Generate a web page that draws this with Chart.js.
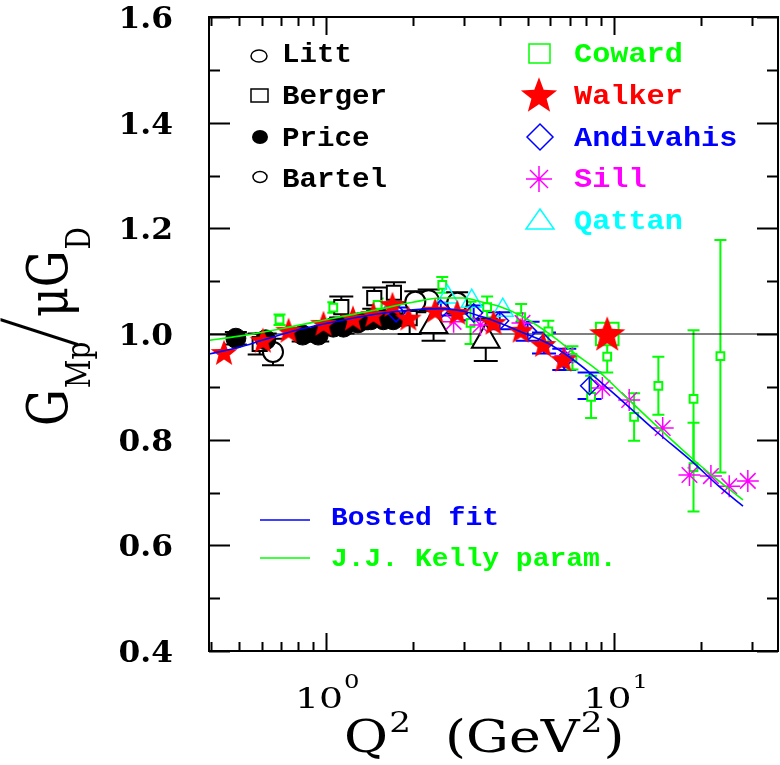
<!DOCTYPE html>
<html>
<head>
<meta charset="utf-8">
<script src="https://cdn.jsdelivr.net/npm/chart.js@4.4.0/dist/chart.umd.min.js"></script>
<style>
html, body { margin: 0; padding: 0; background: #fff; }
#wrap { width: 780px; height: 765px; }
</style>
</head>
<body>
<div id="wrap"><canvas id="myChart" width="780" height="765"></canvas></div>
<script>
// ---- data: Q^2 in GeV^2, value is G_Mp / (mu G_D) ----
var littQ2 = [0.655, 2.04];
var littVal = [0.966, 1.061];
var littErr = [0.025, 0.02];

var bergerQ2 = [0.589, 1.13, 1.47, 1.72, 1.95];
var bergerVal = [0.981, 1.051, 1.068, 1.078, 1.03];
var bergerErr = [0.02, 0.02, 0.02, 0.02, 0.03];

var priceQ2 = [0.487, 0.618, 0.83, 0.94, 1.06, 1.15, 1.29, 1.43, 1.58, 1.71];
var priceVal = [0.992, 0.989, 0.998, 0.998, 1.013, 1.013, 1.021, 1.027, 1.027, 1.027];
var priceErr = [0.012, 0.012, 0.012, 0.012, 0.012, 0.012, 0.012, 0.012, 0.012, 0.012];

var bartelQ2 = [2.27, 2.85];
var bartelVal = [1.064, 1.059];
var bartelErr = [0.02, 0.02];

var triQ2 = [2.36, 3.58];
var triVal = [1.017, 0.989];
var triErr = [0.03, 0.04];

var cowardQ2 = [0.69, 1.06, 1.51, 2.53, 3.17, 3.62, 4.75, 5.9, 7.15, 8.3, 9.44, 9.44, 11.7, 14.2, 18.8, 18.8, 23.3];
var cowardVal = [1.027, 1.05, 1.055, 1.093, 1.021, 1.051, 1.032, 1.005, 0.955, 0.881, 1.0, 0.957, 0.843, 0.902, 0.877, 0.748, 0.958];
var cowardErr = [0.01, 0.01, 0.012, 0.015, 0.04, 0.02, 0.025, 0.02, 0.022, 0.04, 0, 0.03, 0.045, 0.055, 0.13, 0.084, 0.22];

var walkerQ2 = [0.443, 0.604, 0.742, 0.98, 1.24, 1.46, 1.70, 1.93, 2.39, 2.85, 3.81, 4.73, 5.66, 6.65, 9.44];
var walkerVal = [0.966, 0.989, 1.008, 1.021, 1.031, 1.038, 1.057, 1.031, 1.046, 1.042, 1.023, 1.008, 0.981, 0.953, 1.002];

var andivahisQ2 = [1.75, 2.5, 3.25, 4.0, 5.0, 5.7, 6.7, 8.2];
var andivahisVal = [1.04, 1.047, 1.04, 1.025, 1.005, 0.983, 0.952, 0.902];
var andivahisErr = [0.01, 0.012, 0.014, 0.016, 0.018, 0.02, 0.02, 0.025];

var sillQ2 = [2.77, 3.43, 4.80, 6.76, 9.08, 11.25, 14.7, 18.2, 21.6, 25.0, 29.0];
var sillVal = [1.023, 1.017, 1.021, 0.959, 0.898, 0.875, 0.822, 0.733, 0.731, 0.712, 0.722];

var qattanQ2 = [2.64, 3.2, 4.1];
var qattanVal = [1.07, 1.062, 1.045];

var bostedQ2 = [0.393, 0.5, 0.6, 0.8, 1.0, 1.5, 2.0, 2.5, 3.0, 3.5, 4.0, 4.8, 5.9, 7.0, 8.2, 10.7, 14, 18.8, 23, 27.9];
var bostedVal = [0.962, 0.975, 0.988, 1.008, 1.02, 1.038, 1.046, 1.048, 1.043, 1.032, 1.021, 1.003, 0.982, 0.956, 0.927, 0.872, 0.815, 0.756, 0.712, 0.674];

var kellyQ2 = [0.393, 0.5, 0.7, 1.0, 1.5, 2.0, 2.5, 3.0, 3.5, 4.0, 4.8, 6.1, 7.2, 8.7, 10.75, 14, 18.8, 23, 27.9];
var kellyVal = [0.988, 0.996, 1.01, 1.027, 1.046, 1.06, 1.068, 1.068, 1.06, 1.052, 1.033, 0.996, 0.965, 0.932, 0.885, 0.826, 0.762, 0.722, 0.686];

var xRange = [0.393, 36.9];
var yRange = [0.4, 1.6];
var yTickLabels = ['0.4', '0.6', '0.8', '1.0', '1.2', '1.4', '1.6'];
var xMajorTicks = [1, 10];
var xTickExp = ['0', '1'];
var xMinorTicks = [0.4, 0.5, 0.6, 0.7, 0.8, 0.9, 2, 3, 4, 5, 6, 7, 8, 9, 20, 30];

function pts(xs, ys) {
    return xs.map(function (x, i) { return { x: x, y: ys[i] }; });
}

function starImage(size, color) {
    var c = document.createElement('canvas');
    c.width = size; c.height = size;
    var g = c.getContext('2d');
    var cx = size / 2, cy = size / 2 + size * 0.06, R = size / 2, r = R * 0.42;
    g.beginPath();
    for (var i = 0; i < 10; i++) {
        var a = -Math.PI / 2 + i * Math.PI / 5;
        var rr = (i % 2 === 0) ? R : r;
        g.lineTo(cx + rr * Math.cos(a), cy + rr * Math.sin(a));
    }
    g.closePath();
    g.fillStyle = color;
    g.fill();
    return c;
}
var smallStar = starImage(28, '#ff0000');
var bigStar = starImage(38, '#ff0000');

var SERIF = '"DejaVu Serif", "Liberation Serif", serif';
var MONO = '"Liberation Mono", "DejaVu Sans Mono", monospace';

function sText(ctx, text, x, y, font, color, sx, align) {
    ctx.save();
    ctx.font = font;
    ctx.fillStyle = color;
    ctx.textAlign = align || 'left';
    ctx.textBaseline = 'alphabetic';
    ctx.translate(x, y);
    ctx.scale(sx, 1);
    ctx.fillText(text, 0, 0);
    ctx.restore();
}

// pieces: [text, font, baseline shift, extra gap]; drawn left to right from (0,0)
function runText(ctx, pieces) {
    var cx = 0;
    pieces.forEach(function (p) {
        ctx.font = p[1];
        ctx.fillText(p[0], cx, p[2]);
        cx += ctx.measureText(p[0]).width + (p[3] || 0);
    });
    return cx;
}

// error bars drawn under the markers
var errorBars = {
    id: 'errorBars',
    beforeDatasetsDraw: function (chart) {
        var ctx = chart.ctx, xs = chart.scales.x, ys = chart.scales.y;
        ctx.save();
        chart.data.datasets.forEach(function (ds) {
            if (!ds.errBars) return;
            ctx.strokeStyle = ds.barColor;
            ctx.lineWidth = 2;
            ds.data.forEach(function (p, i) {
                var e = ds.errBars[i];
                if (!e) return;
                var px = xs.getPixelForValue(p.x);
                var y1 = ys.getPixelForValue(p.y - e), y2 = ys.getPixelForValue(p.y + e);
                var w = ds.capHalf;
                ctx.beginPath();
                ctx.moveTo(px, y1); ctx.lineTo(px, y2);
                ctx.moveTo(px - w, y1); ctx.lineTo(px + w, y1);
                ctx.moveTo(px - w, y2); ctx.lineTo(px + w, y2);
                ctx.stroke();
            });
        });
        ctx.restore();
    }
};

// frame, inward ticks, tick labels, axis titles and the legend
var decorations = {
    id: 'decorations',
    afterDraw: function (chart) {
        var ctx = chart.ctx, a = chart.chartArea, xs = chart.scales.x, ys = chart.scales.y;
        ctx.save();
        ctx.strokeStyle = '#000';
        ctx.lineWidth = 2;
        ctx.strokeRect(a.left, a.top, a.right - a.left, a.bottom - a.top);

        ctx.beginPath();
        for (var v = 4; v <= 16; v++) {
            var py = Math.round(ys.getPixelForValue(v / 10)) + 0.5;
            var len = (v % 2 === 0) ? 21 : 11;
            ctx.moveTo(a.left, py); ctx.lineTo(a.left + len, py);
            ctx.moveTo(a.right, py); ctx.lineTo(a.right - len, py);
        }
        xMajorTicks.forEach(function (t) {
            var px = Math.round(xs.getPixelForValue(t)) + 0.5;
            ctx.moveTo(px, a.bottom); ctx.lineTo(px, a.bottom - 18);
            ctx.moveTo(px, a.top); ctx.lineTo(px, a.top + 18);
        });
        xMinorTicks.forEach(function (t) {
            var px = Math.round(xs.getPixelForValue(t)) + 0.5;
            ctx.moveTo(px, a.bottom); ctx.lineTo(px, a.bottom - 9);
            ctx.moveTo(px, a.top); ctx.lineTo(px, a.top + 9);
        });
        ctx.stroke();

        // y tick labels
        yTickLabels.forEach(function (lab) {
            var py = ys.getPixelForValue(parseFloat(lab));
            sText(ctx, lab, 173, py + 11, 'bold 29px ' + SERIF, '#000', 1.08, 'right');
        });
        // x tick labels 10^n
        xMajorTicks.forEach(function (t, i) {
            var px = xs.getPixelForValue(t);
            sText(ctx, '10', px - 7, 708, '28px ' + SERIF, '#000', 1.35, 'center');
            sText(ctx, xTickExp[i], px + 18, 688, '18px ' + SERIF, '#000', 1.35, 'left');
        });

        // x axis title
        ctx.save();
        ctx.fillStyle = '#000';
        ctx.translate(344, 752);
        ctx.scale(1.22, 1);
        runText(ctx, [
            ['Q', '44px ' + SERIF, 0, 1],
            ['2', '28px ' + SERIF, -20, 0],
            ['  (GeV', '44px ' + SERIF, 0, 1],
            ['2', '28px ' + SERIF, -20, 1],
            [')', '44px ' + SERIF, 0]
        ]);
        ctx.restore();

        // y axis title, rotated
        ctx.save();
        ctx.fillStyle = '#000';
        ctx.translate(67, 426);
        ctx.rotate(-Math.PI / 2);
        ctx.scale(1, 1.2);
        runText(ctx, [
            ['G', '46px ' + SERIF, 0, 1],
            ['Mp', '28px ' + SERIF, 19, -6],
            ['/', '200 84px Roboto, Inter, "DejaVu Sans", sans-serif', 4, -2],
            ['\u03bcG', '46px ' + SERIF, 0, 1],
            ['D', '28px ' + SERIF, 19]
        ]);
        ctx.restore();

        // legend
        var lf = 'bold 27px ' + MONO;
        ctx.lineWidth = 1.5;
        ctx.strokeStyle = '#000';
        ctx.beginPath(); ctx.ellipse(259, 56, 8, 6, 0, 0, 2 * Math.PI); ctx.stroke();
        sText(ctx, 'Litt', 282, 62, lf, '#000', 1.08);
        ctx.strokeRect(251, 89, 17, 13);
        sText(ctx, 'Berger', 282, 104, lf, '#000', 1.08);
        ctx.fillStyle = '#000';
        ctx.beginPath(); ctx.ellipse(260, 137, 8, 7, 0, 0, 2 * Math.PI); ctx.fill();
        sText(ctx, 'Price', 282, 146, lf, '#000', 1.08);
        ctx.beginPath(); ctx.ellipse(260, 177, 7, 5.5, 0, 0, 2 * Math.PI); ctx.stroke();
        sText(ctx, 'Bartel', 282, 187, lf, '#000', 1.08);

        ctx.strokeStyle = '#00ff00';
        ctx.strokeRect(529, 44, 21, 19);
        sText(ctx, 'Coward', 574, 62, lf, '#00ff00', 1.12);
        ctx.drawImage(bigStar, 539 - 19, 94 - 19);
        sText(ctx, 'Walker', 574, 104, lf, '#ff0000', 1.12);
        ctx.strokeStyle = '#0000ff';
        ctx.beginPath();
        ctx.moveTo(540, 124); ctx.lineTo(553, 137); ctx.lineTo(540, 150); ctx.lineTo(527, 137); ctx.closePath();
        ctx.stroke();
        sText(ctx, 'Andivahis', 574, 146, lf, '#0000ff', 1.12);
        ctx.strokeStyle = '#ff00ff';
        ctx.beginPath();
        ctx.moveTo(539, 166); ctx.lineTo(539, 192);
        ctx.moveTo(526, 179); ctx.lineTo(552, 179);
        ctx.moveTo(530, 170); ctx.lineTo(548, 188);
        ctx.moveTo(548, 170); ctx.lineTo(530, 188);
        ctx.stroke();
        sText(ctx, 'Sill', 574, 187, lf, '#ff00ff', 1.12);
        ctx.strokeStyle = '#00ffff';
        ctx.beginPath();
        ctx.moveTo(540, 209); ctx.lineTo(554, 229); ctx.lineTo(526, 229); ctx.closePath();
        ctx.stroke();
        sText(ctx, 'Qattan', 574, 229, lf, '#00ffff', 1.12);

        var bf = 'bold 25px ' + MONO;
        ctx.lineWidth = 1.5;
        ctx.strokeStyle = '#0000ff';
        ctx.beginPath(); ctx.moveTo(260, 520); ctx.lineTo(310, 520); ctx.stroke();
        sText(ctx, 'Bosted fit', 331, 525, bf, '#0000ff', 1.12);
        ctx.strokeStyle = '#00ff00';
        ctx.beginPath(); ctx.moveTo(260, 558); ctx.lineTo(310, 558); ctx.stroke();
        sText(ctx, 'J.J. Kelly param.', 331, 566, bf, '#00ff00', 1.12);
        ctx.restore();
    }
};

var ctx = document.getElementById('myChart');

var myChart = new Chart(ctx, {
    type: 'scatter',
    data: {
        datasets: [
            { label: 'Bosted fit', data: pts(bostedQ2, bostedVal), showLine: true, borderColor: '#0000ff', borderWidth: 1.6, pointRadius: 0, cubicInterpolationMode: 'monotone' },
            { label: 'J.J. Kelly param.', data: pts(kellyQ2, kellyVal), showLine: true, borderColor: '#00ff00', borderWidth: 1.6, pointRadius: 0, cubicInterpolationMode: 'monotone' },
            { label: 'Walker', data: pts(walkerQ2, walkerVal), pointStyle: walkerQ2.map(function (q, i) { return i === walkerQ2.length - 1 ? bigStar : smallStar; }) },
            { label: 'Sill', data: pts(sillQ2, sillVal), pointStyle: 'star', pointRadius: 11, borderColor: '#ff00ff', borderWidth: 1.5 },
            { label: 'Andivahis', data: pts(andivahisQ2, andivahisVal), pointStyle: 'rectRot', pointRadius: 9, borderColor: '#0000ff', backgroundColor: 'rgba(0,0,0,0)', borderWidth: 1.5,
              errBars: andivahisErr, barColor: '#0000ff', capHalf: 12 },
            { label: 'Qattan', data: pts(qattanQ2, qattanVal), pointStyle: 'triangle', pointRadius: 12, borderColor: '#00ffff', backgroundColor: 'rgba(0,0,0,0)', borderWidth: 1.5 },
            { label: 'Coward', data: pts(cowardQ2, cowardVal), pointStyle: 'rect',
              pointRadius: cowardQ2.map(function (q, i) { return i === 10 ? 16 : 5.5; }),
              borderColor: '#00ff00', backgroundColor: '#ffffff', borderWidth: 2,
              errBars: cowardErr, barColor: '#00ff00', capHalf: 6 },
            { label: 'Price', data: pts(priceQ2, priceVal), pointStyle: 'circle', pointRadius: 10, borderColor: '#000', backgroundColor: '#000',
              errBars: priceErr, barColor: '#000', capHalf: 11 },
            { label: 'Berger', data: pts(bergerQ2, bergerVal), pointStyle: 'rect', pointRadius: 10, borderColor: '#000', backgroundColor: '#fff', borderWidth: 2,
              errBars: bergerErr, barColor: '#000', capHalf: 12 },
            { label: 'Litt', data: pts(littQ2, littVal), pointStyle: 'circle', pointRadius: 10, borderColor: '#000', backgroundColor: '#fff', borderWidth: 2,
              errBars: littErr, barColor: '#000', capHalf: 11 },
            { label: 'Bartel', data: pts(bartelQ2, bartelVal), pointStyle: 'circle', pointRadius: 10, borderColor: '#000', backgroundColor: '#fff', borderWidth: 2,
              errBars: bartelErr, barColor: '#000', capHalf: 11 },
            { label: 'other', data: pts(triQ2, triVal), pointStyle: 'triangle', pointRadius: 16, borderColor: '#000', backgroundColor: '#fff', borderWidth: 2,
              errBars: triErr, barColor: '#000', capHalf: 12 },
            { label: 'unity', data: pts(xRange, [1, 1]), showLine: true, borderColor: '#000', borderWidth: 1.2, pointRadius: 0 }
        ]
    },
    options: {
        responsive: false,
        animation: false,
        layout: { autoPadding: false, padding: { top: 17, right: 2, left: 0, bottom: 0 } },
        plugins: { legend: { display: false }, tooltip: { enabled: false } },
        scales: {
            x: {
                type: 'logarithmic', min: xRange[0], max: xRange[1], bounds: 'data',
                grid: { display: false }, border: { display: false },
                ticks: { display: false },
                afterFit: function (s) { s.height = 114; s.paddingLeft = 0; s.paddingRight = 0; }
            },
            y: {
                min: yRange[0], max: yRange[1], bounds: 'data',
                grid: { display: false }, border: { display: false },
                ticks: { display: false },
                afterFit: function (s) { s.width = 209; s.paddingTop = 0; s.paddingBottom = 0; }
            }
        }
    },
    plugins: [errorBars, decorations]
});
</script>
</body>
</html>
